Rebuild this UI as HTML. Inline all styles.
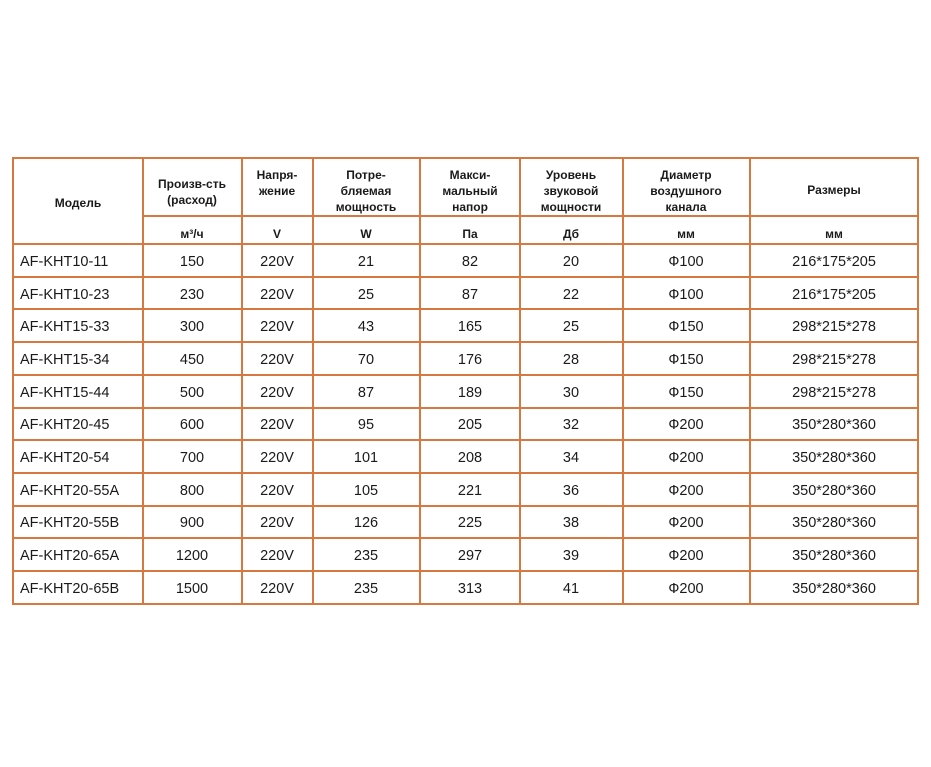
<!DOCTYPE html>
<html><head><meta charset="utf-8"><style>
body{margin:0;background:#fff;}
svg text{font-family:"Liberation Sans","DejaVu Sans",sans-serif;fill:#1a1a1a;}
.h{font-size:12px;font-weight:bold;text-anchor:middle;}
.d{font-size:14.5px;text-anchor:middle;}
.m{font-size:14.5px;}
</style></head><body>
<svg width="931" height="762" viewBox="0 0 931 762" xmlns="http://www.w3.org/2000/svg">
<g stroke="#d67840" stroke-width="2" fill="none">
<rect x="13" y="158" width="905" height="446"/>
<line x1="143" y1="158" x2="143" y2="604"/>
<line x1="242" y1="158" x2="242" y2="604"/>
<line x1="313" y1="158" x2="313" y2="604"/>
<line x1="420" y1="158" x2="420" y2="604"/>
<line x1="520" y1="158" x2="520" y2="604"/>
<line x1="623" y1="158" x2="623" y2="604"/>
<line x1="750" y1="158" x2="750" y2="604"/>
<line x1="143" y1="216" x2="918" y2="216"/>
<line x1="13" y1="244" x2="918" y2="244"/>
<line x1="13" y1="277" x2="918" y2="277"/>
<line x1="13" y1="309" x2="918" y2="309"/>
<line x1="13" y1="342" x2="918" y2="342"/>
<line x1="13" y1="375" x2="918" y2="375"/>
<line x1="13" y1="408" x2="918" y2="408"/>
<line x1="13" y1="440" x2="918" y2="440"/>
<line x1="13" y1="473" x2="918" y2="473"/>
<line x1="13" y1="506" x2="918" y2="506"/>
<line x1="13" y1="538" x2="918" y2="538"/>
<line x1="13" y1="571" x2="918" y2="571"/>
</g>
<text class="h" x="78" y="207">Модель</text>
<text class="h" x="192" y="188">Произв-сть</text><text class="h" x="192" y="204">(расход)</text>
<text class="h" x="277" y="179">Напря-</text><text class="h" x="277" y="195">жение</text>
<text class="h" x="366" y="179">Потре-</text><text class="h" x="366" y="195">бляемая</text><text class="h" x="366" y="211">мощность</text>
<text class="h" x="470" y="179">Макси-</text><text class="h" x="470" y="195">мальный</text><text class="h" x="470" y="211">напор</text>
<text class="h" x="571" y="179">Уровень</text><text class="h" x="571" y="195">звуковой</text><text class="h" x="571" y="211">мощности</text>
<text class="h" x="686" y="179">Диаметр</text><text class="h" x="686" y="195">воздушного</text><text class="h" x="686" y="211">канала</text>
<text class="h" x="834" y="194">Размеры</text>
<text class="h" x="192" y="238">м³/ч</text>
<text class="h" x="277" y="238">V</text>
<text class="h" x="366" y="238">W</text>
<text class="h" x="470" y="238">Па</text>
<text class="h" x="571" y="238">Дб</text>
<text class="h" x="686" y="238">мм</text>
<text class="h" x="834" y="238">мм</text>
<g>
<text class="m" x="20" y="266">AF-KHT10-11</text><text class="d" x="192" y="266">150</text><text class="d" x="277" y="266">220V</text><text class="d" x="366" y="266">21</text><text class="d" x="470" y="266">82</text><text class="d" x="571" y="266">20</text><text class="d" x="686" y="266">Ф100</text><text class="d" x="834" y="266">216*175*205</text>
<text class="m" x="20" y="299">AF-KHT10-23</text><text class="d" x="192" y="299">230</text><text class="d" x="277" y="299">220V</text><text class="d" x="366" y="299">25</text><text class="d" x="470" y="299">87</text><text class="d" x="571" y="299">22</text><text class="d" x="686" y="299">Ф100</text><text class="d" x="834" y="299">216*175*205</text>
<text class="m" x="20" y="331">AF-KHT15-33</text><text class="d" x="192" y="331">300</text><text class="d" x="277" y="331">220V</text><text class="d" x="366" y="331">43</text><text class="d" x="470" y="331">165</text><text class="d" x="571" y="331">25</text><text class="d" x="686" y="331">Ф150</text><text class="d" x="834" y="331">298*215*278</text>
<text class="m" x="20" y="364">AF-KHT15-34</text><text class="d" x="192" y="364">450</text><text class="d" x="277" y="364">220V</text><text class="d" x="366" y="364">70</text><text class="d" x="470" y="364">176</text><text class="d" x="571" y="364">28</text><text class="d" x="686" y="364">Ф150</text><text class="d" x="834" y="364">298*215*278</text>
<text class="m" x="20" y="397">AF-KHT15-44</text><text class="d" x="192" y="397">500</text><text class="d" x="277" y="397">220V</text><text class="d" x="366" y="397">87</text><text class="d" x="470" y="397">189</text><text class="d" x="571" y="397">30</text><text class="d" x="686" y="397">Ф150</text><text class="d" x="834" y="397">298*215*278</text>
<text class="m" x="20" y="429">AF-KHT20-45</text><text class="d" x="192" y="429">600</text><text class="d" x="277" y="429">220V</text><text class="d" x="366" y="429">95</text><text class="d" x="470" y="429">205</text><text class="d" x="571" y="429">32</text><text class="d" x="686" y="429">Ф200</text><text class="d" x="834" y="429">350*280*360</text>
<text class="m" x="20" y="462">AF-KHT20-54</text><text class="d" x="192" y="462">700</text><text class="d" x="277" y="462">220V</text><text class="d" x="366" y="462">101</text><text class="d" x="470" y="462">208</text><text class="d" x="571" y="462">34</text><text class="d" x="686" y="462">Ф200</text><text class="d" x="834" y="462">350*280*360</text>
<text class="m" x="20" y="495">AF-KHT20-55A</text><text class="d" x="192" y="495">800</text><text class="d" x="277" y="495">220V</text><text class="d" x="366" y="495">105</text><text class="d" x="470" y="495">221</text><text class="d" x="571" y="495">36</text><text class="d" x="686" y="495">Ф200</text><text class="d" x="834" y="495">350*280*360</text>
<text class="m" x="20" y="527">AF-KHT20-55B</text><text class="d" x="192" y="527">900</text><text class="d" x="277" y="527">220V</text><text class="d" x="366" y="527">126</text><text class="d" x="470" y="527">225</text><text class="d" x="571" y="527">38</text><text class="d" x="686" y="527">Ф200</text><text class="d" x="834" y="527">350*280*360</text>
<text class="m" x="20" y="560">AF-KHT20-65A</text><text class="d" x="192" y="560">1200</text><text class="d" x="277" y="560">220V</text><text class="d" x="366" y="560">235</text><text class="d" x="470" y="560">297</text><text class="d" x="571" y="560">39</text><text class="d" x="686" y="560">Ф200</text><text class="d" x="834" y="560">350*280*360</text>
<text class="m" x="20" y="593">AF-KHT20-65B</text><text class="d" x="192" y="593">1500</text><text class="d" x="277" y="593">220V</text><text class="d" x="366" y="593">235</text><text class="d" x="470" y="593">313</text><text class="d" x="571" y="593">41</text><text class="d" x="686" y="593">Ф200</text><text class="d" x="834" y="593">350*280*360</text>
</g>
</svg>
</body></html>
